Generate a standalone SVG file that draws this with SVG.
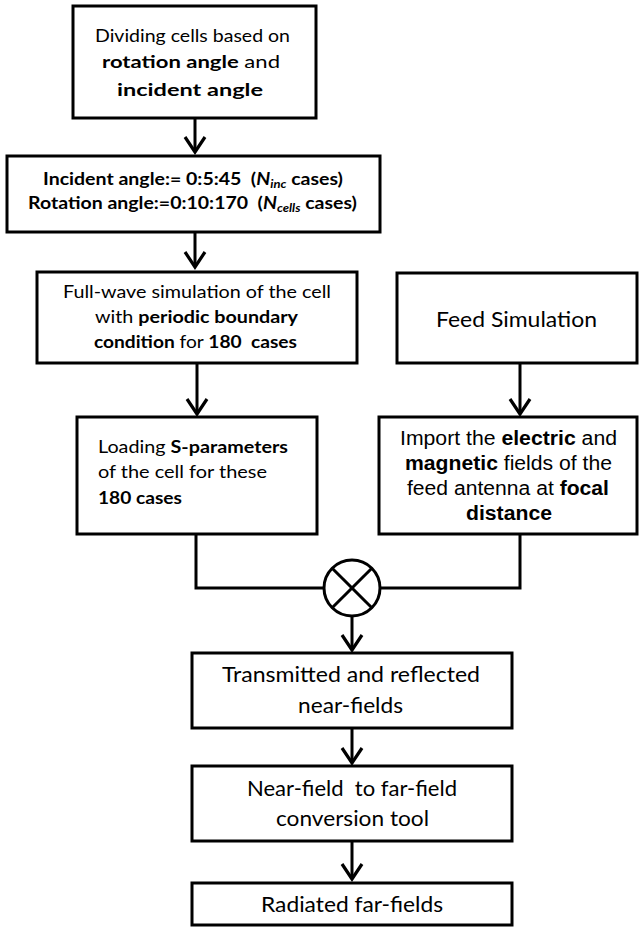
<svg xmlns="http://www.w3.org/2000/svg" width="640" height="929" viewBox="0 0 640 929">
<style>
.box{fill:#fff;stroke:#000;stroke-width:3}
.ln{fill:none;stroke:#000;stroke-width:3}
.t{font-family:Lato,"Open Sans","Liberation Sans",sans-serif;fill:#000;text-anchor:middle}
.s16{font-size:16.5px}
.s21{font-size:21px}
.a{font-family:"Liberation Sans",Arial,sans-serif;font-size:19.5px;fill:#000;text-anchor:middle}
.b{font-weight:bold}
.i{font-style:italic}
</style>
<defs>
<marker id="arr" markerUnits="userSpaceOnUse" orient="auto" refX="0" refY="0" markerWidth="30" markerHeight="30" viewBox="-20 -15 30 30" overflow="visible">
<path d="M-15,-10 L0,0 L-15,10" fill="none" stroke="#000" stroke-width="3.2" stroke-linejoin="miter"/>
</marker>
</defs>

<g id="connectors">
<line class="ln" x1="195" y1="118" x2="195" y2="152" marker-end="url(#arr)"/>
<line class="ln" x1="195" y1="232" x2="195" y2="267" marker-end="url(#arr)"/>
<line class="ln" x1="197" y1="363" x2="197" y2="414" marker-end="url(#arr)"/>
<line class="ln" x1="520" y1="363" x2="520" y2="414" marker-end="url(#arr)"/>
<polyline class="ln" points="196,534 196,588 323.5,588"/>
<polyline class="ln" points="520,534 520,588 380.5,588"/>
<line class="ln" x1="352" y1="616" x2="352" y2="650" marker-end="url(#arr)"/>
<line class="ln" x1="352" y1="728" x2="352" y2="763" marker-end="url(#arr)"/>
<line class="ln" x1="352" y1="841" x2="352" y2="879" marker-end="url(#arr)"/>
</g>

<g id="n1">
<rect class="box" x="73" y="6" width="243" height="112"/>
<text class="t s16" x="192.5" y="42" textLength="195" lengthAdjust="spacingAndGlyphs">Dividing cells based on</text>
<text class="t s16" x="191" y="68" textLength="178" lengthAdjust="spacingAndGlyphs"><tspan class="b">rotation angle</tspan> and</text>
<text class="t s16 b" x="190" y="96" textLength="146" lengthAdjust="spacingAndGlyphs">incident angle</text>
</g>

<g id="n2">
<rect class="box" x="7" y="156" width="373" height="76"/>
<text class="t s16 b" x="193" y="185" xml:space="preserve" textLength="300" lengthAdjust="spacingAndGlyphs">Incident angle:= 0:5:45  (<tspan class="i">N</tspan><tspan class="i" font-size="11" dy="3">inc</tspan><tspan dy="-3"> cases)</tspan></text>
<text class="t s16 b" x="192.5" y="209" xml:space="preserve" textLength="329" lengthAdjust="spacingAndGlyphs">Rotation angle:=0:10:170  (<tspan class="i">N</tspan><tspan class="i" font-size="11" dy="3">cells</tspan><tspan dy="-3"> cases)</tspan></text>
</g>

<g id="n3">
<rect class="box" x="37" y="272" width="320" height="91"/>
<text class="t s16" x="197" y="298" textLength="268" lengthAdjust="spacingAndGlyphs">Full-wave simulation of the cell</text>
<text class="t s16" x="196.5" y="323" textLength="203" lengthAdjust="spacingAndGlyphs">with <tspan class="b">periodic boundary</tspan></text>
<text class="t s16" x="195.5" y="348" xml:space="preserve" textLength="203" lengthAdjust="spacingAndGlyphs"><tspan class="b">condition</tspan> for <tspan class="b">180  cases</tspan></text>
</g>

<g id="n4">
<rect class="box" x="77" y="417" width="240" height="117"/>
<text class="t s16" x="98" y="453" text-anchor="start" style="text-anchor:start" textLength="190" lengthAdjust="spacingAndGlyphs">Loading <tspan class="b">S-parameters</tspan></text>
<text class="t s16" x="98" y="478" style="text-anchor:start" textLength="169" lengthAdjust="spacingAndGlyphs">of the cell for these</text>
<text class="t s16 b" x="98" y="504" style="text-anchor:start" textLength="84" lengthAdjust="spacingAndGlyphs">180 cases</text>
</g>

<g id="n5">
<rect class="box" x="397" y="273" width="240" height="90"/>
<text class="t s21" x="516.5" y="327" textLength="161" lengthAdjust="spacingAndGlyphs">Feed Simulation</text>
</g>

<g id="n6">
<rect class="box" x="379" y="417" width="258" height="117"/>
<text class="a" x="508.5" y="445" textLength="217" lengthAdjust="spacingAndGlyphs">Import the <tspan class="b">electric</tspan> and</text>
<text class="a" x="508.5" y="470" textLength="207" lengthAdjust="spacingAndGlyphs"><tspan class="b">magnetic</tspan> fields of the</text>
<text class="a" x="508" y="495" textLength="202" lengthAdjust="spacingAndGlyphs">feed antenna at <tspan class="b">focal</tspan></text>
<text class="a b" x="509" y="520" textLength="86" lengthAdjust="spacingAndGlyphs">distance</text>
</g>

<g id="mult">
<circle cx="352" cy="588" r="28" fill="#fff" stroke="#000" stroke-width="3"/>
<line class="ln" x1="332.2" y1="568.2" x2="371.8" y2="607.8"/>
<line class="ln" x1="371.8" y1="568.2" x2="332.2" y2="607.8"/>
</g>

<g id="n7">
<rect class="box" x="192" y="653" width="320" height="75"/>
<text class="t s21" x="351" y="682" textLength="258" lengthAdjust="spacingAndGlyphs">Transmitted and reflected</text>
<text class="t s21" x="350.5" y="713" textLength="105" lengthAdjust="spacingAndGlyphs">near-fields</text>
</g>

<g id="n8">
<rect class="box" x="192" y="766" width="320" height="75"/>
<text class="t s21" x="352" y="796" xml:space="preserve" textLength="210" lengthAdjust="spacingAndGlyphs">Near-field  to far-field</text>
<text class="t s21" x="352.5" y="826" textLength="153" lengthAdjust="spacingAndGlyphs">conversion tool</text>
</g>

<g id="n9">
<rect class="box" x="192" y="883" width="320" height="42"/>
<text class="t s21" x="352" y="912" textLength="182" lengthAdjust="spacingAndGlyphs">Radiated far-fields</text>
</g>
</svg>
